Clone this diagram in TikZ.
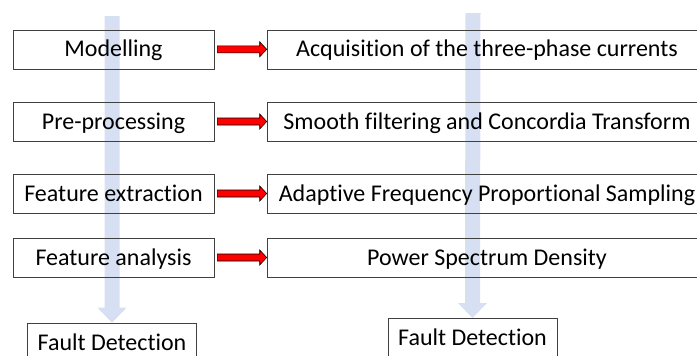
\documentclass[tikz,border=0pt]{standalone}
\usepackage{fontspec}
\setmainfont[Ligatures=NoCommon]{Carlito}
\usetikzlibrary{calc,backgrounds}
\definecolor{blueband}{HTML}{D6E0F2}
\begin{document}
\begin{tikzpicture}[x=1pt,y=-1pt,
  box/.style={draw=black!75, line width=0.6pt, minimum height=39pt, inner sep=0pt,
              text height=15pt, text depth=0pt,
              font=\fontsize{24}{28}\selectfont},
  lbox/.style={box, minimum width=201pt},
  rbox/.style={box, minimum width=440pt},
  fdbox/.style={box, minimum width=169pt},
  redarrow/.style={fill=red, draw=black, line width=0.6pt, line join=miter}]
\useasboundingbox (0,0) rectangle (697,356);
\clip (0,0) rectangle (697,356);
% nodes
\node[lbox] (l1) at (113.5,49.3) {Modelling};
\node[lbox] (l2) at (113.5,121.5) {Pre-processing};
\node[lbox] (l3) at (113.5,193.5) {Feature extraction};
\node[lbox] (l4) at (113.5,257.5) {Feature analysis};
\node[rbox] (r1) at (487,49.3) {Acquisition of the three-phase currents};
\node[rbox] (r2) at (487,121.5) {Smooth filtering and Concordia Transform};
\node[rbox] (r3) at (487,193.5) {Adaptive Frequency Proportional Sampling};
\node[rbox] (r4) at (487,257.5) {Power Spectrum Density};
\node[fdbox] (fd1) at (112,342.5) {Fault Detection};
\node[fdbox] (fd2) at (472.5,337.8) {Fault Detection};
\coordinate (t1) at (112,16);
\coordinate (t2) at (473,13);
% blue bands behind the boxes
\begin{scope}[on background layer]
\foreach \t/\f in {t1/fd1, t2/fd2}{
  \fill[blueband] ($(\t)+(-7.5,0)$) -- ($(\f.north)+(-7.5,-15)$) -- ($(\f.north)+(-14.5,-15)$)
    -- (\f.north) -- ($(\f.north)+(14.5,-15)$) -- ($(\f.north)+(7.5,-15)$) -- ($(\t)+(7.5,0)$) -- cycle;
}
\end{scope}
% red arrows
\foreach \a/\b in {l1/r1, l2/r2, l3/r3, l4/r4}{
  \draw[redarrow] ($(\a.east)+(3,-3.5)$) -- ($(\b.west)+(-7,-3.5)$) -- ($(\b.west)+(-7,-7.5)$)
    -- (\b.west) -- ($(\b.west)+(-7,7.5)$) -- ($(\b.west)+(-7,3.5)$) -- ($(\a.east)+(3,3.5)$) -- cycle;
}
\end{tikzpicture}
\end{document}
